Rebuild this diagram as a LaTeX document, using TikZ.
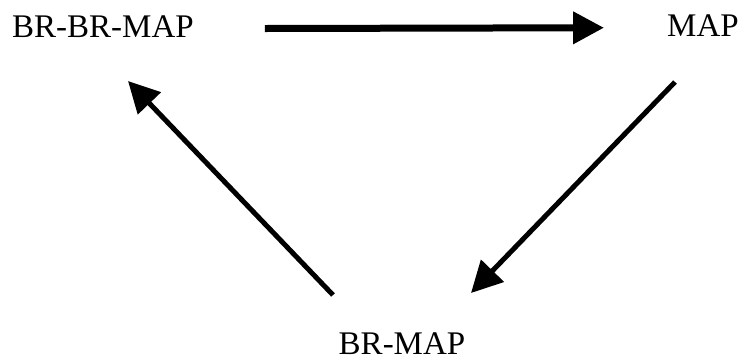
\documentclass[tikz,border=0pt]{standalone}
\usepackage{fontspec}
\setmainfont{Liberation Serif}
\usetikzlibrary{arrows.meta,positioning}

\begin{document}
\begin{tikzpicture}
  [x=1pt,y=-1pt,
   mapN/.style={inner sep=0pt,font=\fontsize{33}{40}\selectfont},
   bigArr/.style={line width=#1,-{Triangle[length=31pt,width=31pt]}}]

  \useasboundingbox (0,0) rectangle (746,360);

  \node[mapN,anchor=base west] (brbr) at (12,37) {BR-BR-MAP};
  \node[mapN,anchor=base] (map) at (703,36) {MAP};
  \node[mapN,anchor=base] (brmap) at (402,354) {BR-MAP};

  % ends of the slanted arrows
  \coordinate (mapout) at (675,82);
  \coordinate (brmapin) at (471,293);
  \coordinate (brmapout) at (333,295);
  \coordinate (brbrin) at (128,81);

  \draw[bigArr=7pt,shorten <=71pt,shorten >=63pt]
    ([yshift=-2.5pt]brbr.east) -- ([yshift=-2.5pt]map.west);
  \draw[bigArr=5pt] (mapout) -- (brmapin);
  \draw[bigArr=5pt] (brmapout) -- (brbrin);

\end{tikzpicture}
\end{document}
